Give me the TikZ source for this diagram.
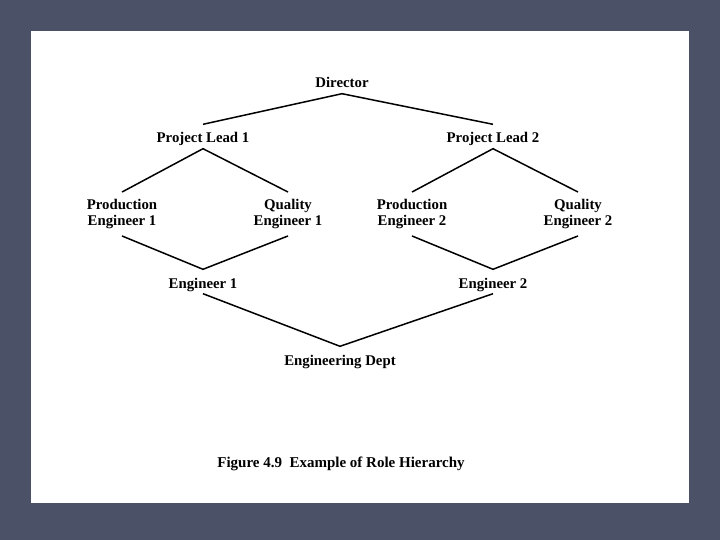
\documentclass[tikz,border=0pt]{standalone}
\usepackage{fontspec}
\setmainfont{Liberation Serif}
\usetikzlibrary{positioning}
\definecolor{slidebg}{HTML}{4B5166}
\tikzset{
  rolebox/.style={font=\fontsize{14.8}{16}\selectfont\bfseries, align=center,
    text height=15pt, text depth=2pt, inner xsep=2pt, inner ysep=3.5pt, anchor=base},
  rolepair/.style={font=\fontsize{14.8}{16}\selectfont\bfseries, align=center,
    inner xsep=2pt, inner ysep=7pt},
  roleline/.style={line width=1.5pt},
  rolecap/.style={font=\fontsize{15}{17}\selectfont\bfseries},
}
\begin{document}
\begin{tikzpicture}[x=1pt,y=-1pt]
  \fill[slidebg] (0,0) rectangle (720,540);
  \useasboundingbox (0,0) rectangle (720,540);
  \fill[white] (31,31) rectangle (689,503);
  \node[rolebox] (dir) at (342,88) {Director};
  \node[rolebox] (lead1) at (203,143) {Project Lead 1};
  \node[rolebox] (lead2) at (493,143) {Project Lead 2};
  \node[rolepair] (prod1) at (122,214) {Production\\Engineer 1};
  \node[rolepair] (qual1) at (288,214) {Quality\\Engineer 1};
  \node[rolepair] (prod2) at (412,214) {Production\\Engineer 2};
  \node[rolepair] (qual2) at (578,214) {Quality\\Engineer 2};
  \node[rolebox] (eng1) at (203,288) {Engineer 1};
  \node[rolebox] (eng2) at (493,288) {Engineer 2};
  \node[rolebox] (dept) at (340,365) {Engineering Dept};
  \node[rolecap] (caption) at (341,464) {Figure 4.9~~Example of Role Hierarchy};
  \draw[roleline] (lead1.north) -- (dir.south) -- (lead2.north);
  \draw[roleline] (prod1.north) -- (lead1.south) -- (qual1.north);
  \draw[roleline] (prod2.north) -- (lead2.south) -- (qual2.north);
  \draw[roleline] (prod1.south) -- (eng1.north) -- (qual1.south);
  \draw[roleline] (prod2.south) -- (eng2.north) -- (qual2.south);
  \draw[roleline] (eng1.south) -- (dept.north) -- (eng2.south);
\end{tikzpicture}
\end{document}
